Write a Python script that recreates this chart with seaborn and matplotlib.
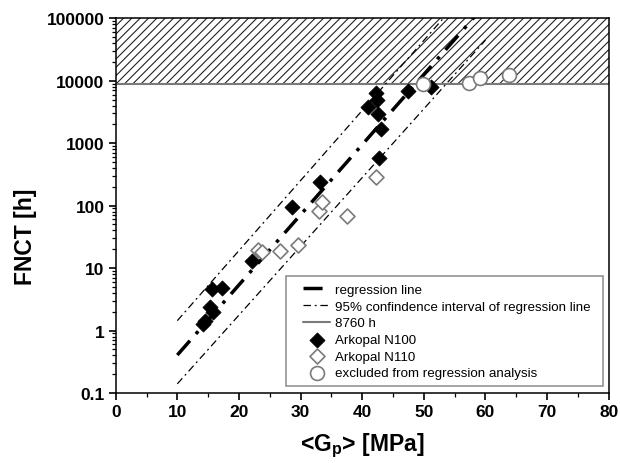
import matplotlib
matplotlib.use("Agg")
import matplotlib.pyplot as plt
import seaborn as sns
import pandas as pd
from matplotlib.patches import Rectangle
from matplotlib.ticker import LogLocator, FuncFormatter, MultipleLocator, NullFormatter

# ---------------- data ----------------
n100_g = [14.2, 14.5, 15.3, 15.8, 15.6, 17.2, 22.1, 28.6, 33.2, 41.0, 42.3, 42.4, 42.6, 43.1, 42.7, 47.4, 51.2]
n100_fnct = [1.27, 1.44, 2.36, 1.96, 4.6, 4.8, 13, 96, 240, 3760, 6370, 5000, 2940, 1690, 570, 6930, 7850]
n110_g = [23.1, 23.8, 26.7, 29.6, 33.0, 33.4, 37.5, 42.3]
n110_fnct = [19.7, 17.9, 18.6, 23.4, 81, 113, 69, 284]
excl_g = [49.9, 57.4, 59.1, 63.8]
excl_fnct = [8870, 9100, 11070, 12500]
line_g = [10, 60]
regression_fnct = [0.405, 167000]
ci_upper_fnct = [1.44, 585000]
ci_lower_fnct = [0.14, 44700]
limit_h = 8760
y_min, y_max = 0.1, 100000
x_min, x_max = 0, 80
labels = ["regression line", "95% confindence interval of regression line", "8760 h",
          "Arkopal N100", "Arkopal N110", "excluded from regression analysis"]

# ---------------- style ----------------
sns.set_theme(style="ticks")
plt.rcParams["font.family"] = ["Liberation Sans", "DejaVu Sans"]
plt.rcParams["mathtext.fontset"] = "custom"
plt.rcParams["mathtext.rm"] = "Liberation Sans"
plt.rcParams["mathtext.bf"] = "Liberation Sans:bold"
plt.rcParams["hatch.linewidth"] = 0.8
for k in ["text.color", "axes.labelcolor", "xtick.color", "ytick.color", "axes.edgecolor"]:
    plt.rcParams[k] = "black"

fig = plt.figure(figsize=(6.2, 4.64), dpi=100)
ax = fig.add_axes([0.1866, 0.1509, 0.7952, 0.8075])
ax.set_yscale("log")
ax.set_xlim(x_min, x_max)
ax.set_ylim(y_min, y_max)

# hatched region above 8760 h
ax.fill_between([x_min, x_max], limit_h, y_max, facecolor="white",
                edgecolor="#222222", hatch="////", linewidth=0, zorder=1)

gray = "#7a7a7a"
ci_style = (0, (6, 3, 1.5, 3))
ax.plot(line_g, regression_fnct, color="black", lw=2.5,
        linestyle=(0, (5.5, 2.6, 1.0, 2.6)), zorder=3, label=labels[0])
ax.plot(line_g, ci_upper_fnct, color="black", lw=0.9, linestyle=ci_style, zorder=3)
ax.plot(line_g, ci_lower_fnct, color="black", lw=0.9, linestyle=ci_style, zorder=3,
        label=labels[1])
ax.axhline(limit_h, color=gray, lw=1.5, zorder=2, label=labels[2])

df100 = pd.DataFrame({"g": n100_g, "f": n100_fnct})
df110 = pd.DataFrame({"g": n110_g, "f": n110_fnct})
dfex = pd.DataFrame({"g": excl_g, "f": excl_fnct})
sns.scatterplot(data=df100, x="g", y="f", ax=ax, marker="D", s=60, color="black",
                edgecolor="black", linewidth=0.5, zorder=4, label=labels[3])
sns.scatterplot(data=df110, x="g", y="f", ax=ax, marker="D", s=58, facecolor="white",
                edgecolor=gray, linewidth=1.2, zorder=4, label=labels[4])
sns.scatterplot(data=dfex, x="g", y="f", ax=ax, marker="o", s=100, facecolor="white",
                edgecolor=gray, linewidth=1.2, zorder=4, label=labels[5])

# ---------------- axes ----------------
ax.xaxis.set_major_locator(MultipleLocator(10))
ax.xaxis.set_minor_locator(MultipleLocator(5))
ax.yaxis.set_major_locator(LogLocator(base=10, numticks=20))
ax.yaxis.set_minor_locator(LogLocator(base=10, subs=range(2, 10), numticks=20))
ax.yaxis.set_minor_formatter(NullFormatter())
ax.yaxis.set_major_formatter(FuncFormatter(lambda v, p: ("%g" % v) if v >= 1 else "0.1"))
ax.tick_params(which="major", direction="out", length=4.8, width=1.2, pad=3.2,
               labelsize=12.5, top=False, right=False, colors="black")
ax.tick_params(which="minor", direction="out", length=2.6, width=0.9, top=False, right=False,
               colors="black")
for lab in ax.get_xticklabels() + ax.get_yticklabels():
    lab.set_fontweight("bold")
for sp in ax.spines.values():
    sp.set_visible(True)
    sp.set_linewidth(1.1)
    sp.set_color("black")

ax.set_xlabel(r"<G$_\mathbf{p}$> [MPa]", fontsize=16.5, fontweight="bold", labelpad=8,
              color="black")
ax.set_ylabel("FNCT [h]", fontsize=16.5, fontweight="bold", color="black")
ax.yaxis.set_label_coords(-0.16, 0.42)

# ---------------- legend ----------------
ax.add_patch(Rectangle((0.3454, 0.0195), 0.643, 0.2936, transform=ax.transAxes,
                       facecolor="white", edgecolor="#8a8a8a", lw=1.1, zorder=5))
handles, labs = ax.get_legend_handles_labels()
order = [labs.index(l) for l in labels]
leg = ax.legend([handles[i] for i in order], [labs[i] for i in order],
                loc="center left", bbox_to_anchor=(0.3805, 0.1641), frameon=False,
                fontsize=9.6, borderpad=0, handlelength=2.0, handletextpad=0.36,
                labelspacing=0.33, borderaxespad=0)
for t in leg.get_texts():
    t.set_color("black")
leg.set_zorder(6)

fig.savefig("out.png", dpi=100)
